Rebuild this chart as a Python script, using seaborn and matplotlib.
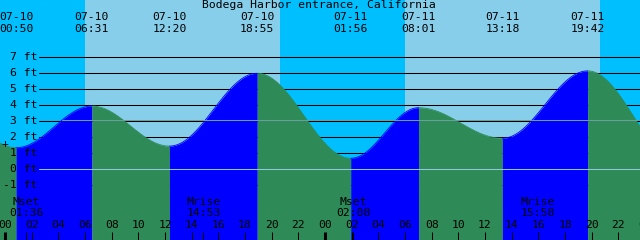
import numpy as np
import pandas as pd
import matplotlib
matplotlib.use('Agg')
import matplotlib.pyplot as plt
import matplotlib.transforms as mtransforms
import seaborn as sns

# Tide highs and lows (hours from 07-10 00:00); the first and last fall off the chart
tide_hours = [-5.8, 0.833, 6.517, 12.333, 18.917, 25.933, 31.017, 37.3, 43.7, 50.7]
tide_ft = [5.05, 1.35, 3.95, 1.45, 6.0, 0.69, 3.85, 1.94, 6.15, 0.3]

# Labels of the extremes shown on the chart
event_dates = ['07-10', '07-10', '07-10', '07-10', '07-11', '07-11', '07-11', '07-11']
event_times = ['00:50', '06:31', '12:20', '18:55', '01:56', '08:01', '13:18', '19:42']

# Sun and moon
sunrise_hours = [6.0, 30.0]
sunset_hours = [20.62, 44.62]
moon_hours = [1.6, 14.883, 26.133, 39.967]
moon_events = ['Mset', 'Mrise', 'Mset', 'Mrise']
moon_times = ['01:36', '14:53', '02:08', '15:58']

# Axes
depth_ft = [7, 6, 5, 4, 3, 2, 1, 0, -1]
depth_labels = ['7 ft', '6 ft', '5 ft', '4 ft', '3 ft', '2 ft', '1 ft', '0 ft', '-1 ft']
hour_ticks = list(range(0, 49, 2))
hour_labels = ['00', '02', '04', '06', '08', '10', '12', '14', '16', '18', '20', '22',
               '00', '02', '04', '06', '08', '10', '12', '14', '16', '18', '20', '22', '00']
msl_ft = 3.06
title = 'Bodega Harbor entrance, California'

# Colours
night_col = '#00BFFF'
day_col = '#87CEEB'
rise_col = '#0000FF'
fall_col = '#2E8B57'

sns.set_theme(style='white')
plt.rcParams['font.family'] = ['DejaVu Sans Mono']
fs = 8.2

# Curve between each low and high (half cosine, the usual tide shape)
rows = []
for i in range(len(tide_hours) - 1):
    t0, t1 = tide_hours[i], tide_hours[i + 1]
    h0, h1 = tide_ft[i], tide_ft[i + 1]
    t = np.linspace(t0, t1, 120)
    h = h0 + (h1 - h0) * (1 - np.cos(np.pi * (t - t0) / (t1 - t0))) / 2
    trend = 'rising' if h1 > h0 else 'falling'
    for a, b in zip(t, h):
        rows.append((a, b, trend, i))
df = pd.DataFrame(rows, columns=['hour', 'ft', 'trend', 'seg'])

x0, x1 = -0.375, 47.625
y0, y1 = (169.3 - 240) / 16, 169.3 / 16


def px_to_ft(py):
    return (169.3 - py) / 16


fig = plt.figure(figsize=(6.4, 2.4), dpi=100)
ax = fig.add_axes([0, 0, 1, 1])
ax.set_xlim(x0, x1)
ax.set_ylim(y0, y1)

# night everywhere, daylight between sunrise and sunset
ax.axvspan(x0 - 1, x1 + 1, color=night_col, lw=0, zorder=0)
for r, s in zip(sunrise_hours, sunset_hours):
    ax.axvspan(r, s, color=day_col, lw=0, zorder=0)

# depth lines behind the water
for d in depth_ft:
    ax.axhline(d, xmin=39 / 640, xmax=1, color='black', lw=0.75, zorder=1)

pal = {'rising': rise_col, 'falling': fall_col}
for seg, g in df.groupby('seg'):
    ax.fill_between(g['hour'], g['ft'], y0 - 1, color=pal[g['trend'].iloc[0]],
                    lw=0, zorder=2)
sns.lineplot(data=df, x='hour', y='ft', hue='trend', units='seg', estimator=None,
             palette=pal, legend=False, lw=0.6, ax=ax, zorder=2)

# mean sea level and datum lines over the water
ax.axhline(msl_ft, xmin=62 / 640, xmax=1, color='#6A9FA0', lw=0.75, zorder=3)
ax.axhline(0, xmin=39 / 640, xmax=1, color='#90C8E0', lw=0.75, zorder=3)

trans = mtransforms.blended_transform_factory(ax.transAxes, ax.transData)
for d, lab in zip(depth_ft, depth_labels):
    ax.text(37 / 640, d, lab, transform=trans, ha='right', va='center',
            fontsize=fs, color='black', zorder=4)
ax.text(0, px_to_ft(144), '+', ha='center', va='center', fontsize=fs,
        color='black', zorder=4)

ax.text(0.498, 1 - 5 / 240, title, transform=ax.transAxes, ha='center',
        va='center', fontsize=fs, color='black')
for t, d, s in zip(tide_hours[1:-1], event_dates, event_times):
    ax.text(t, px_to_ft(17.3), d, ha='center', va='center', fontsize=fs, color='black')
    ax.text(t, px_to_ft(29.5), s, ha='center', va='center', fontsize=fs, color='black')

for t, e, s in zip(moon_hours, moon_events, moon_times):
    ax.text(t, px_to_ft(202), e, ha='center', va='center', fontsize=fs, color='black', zorder=4)
    ax.text(t, px_to_ft(213), s, ha='center', va='center', fontsize=fs, color='black', zorder=4)

for t, lab in zip(hour_ticks, hour_labels):
    ax.text(t, px_to_ft(225), lab, ha='center', va='center', fontsize=fs, color='black', zorder=4)
    lw = 2.2 if t % 24 == 0 else 0.75
    ax.vlines(t, px_to_ft(232), y0 - 1, color='black', lw=lw, zorder=4)
ax.vlines(moon_hours, px_to_ft(232), y0 - 1, color='black', lw=0.75, zorder=4)

ax.axis('off')
fig.savefig('out.png', dpi=100)
plt.close()
